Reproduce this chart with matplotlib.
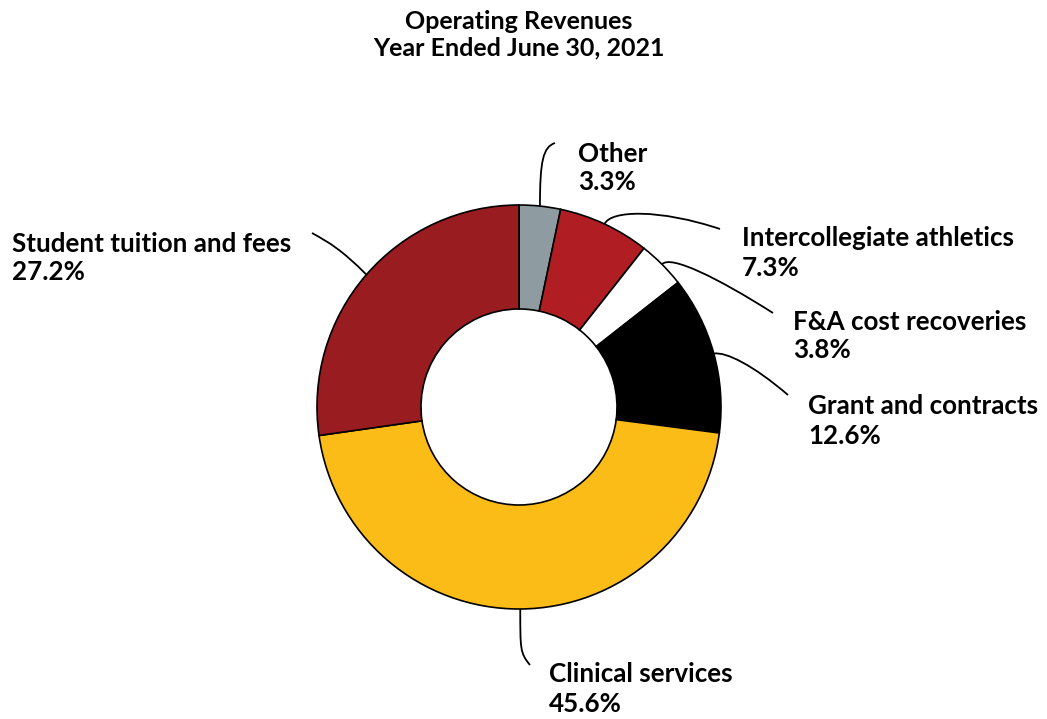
import numpy as np
import matplotlib
matplotlib.use('Agg')
import matplotlib.pyplot as plt
from matplotlib.path import Path
from matplotlib.patches import PathPatch

# dados do grafico
categories = ['Other', 'Intercollegiate athletics', 'F&A cost recoveries',
              'Grant and contracts', 'Clinical services', 'Student tuition and fees']
values = [3.3, 7.3, 3.8, 12.6, 45.6, 27.2]
colors = ['#8e9ca1', '#b01e23', '#ffffff', '#000000', '#fbbc18', '#981c20']
title = 'Operating Revenues\nYear Ended June 30, 2021'

W, H = 1047, 719
plt.rcParams['font.family'] = ['Lato', 'DejaVu Sans']

def px(x, y):
    # pixel (topo-esquerda) -> coordenadas de dados
    return (x, H - y)

fig = plt.figure(figsize=(W / 100, H / 100), dpi=100)
ax = fig.add_axes([0, 0, 1, 1])

cx, cy = px(519, 407)
R = 202
wedges, _ = ax.pie(values, colors=colors, startangle=90, counterclock=False,
                   center=(cx, cy), radius=R, frame=True,
                   wedgeprops=dict(width=104, edgecolor='black', linewidth=1.2))
ax.set_xlim(0, W)
ax.set_ylim(0, H)
ax.set_aspect('equal')
ax.axis('off')

# posicao dos textos (pixel) e fim das linhas
label_pos = [(578, 168), (742, 253), (793, 336), (808, 421), (549, 689), (12, 258)]
line_end = [(555, 143), (720, 229), (773, 313), (788, 395), (530, 665), (312, 233)]
# controles das curvas bezier
ctrl = [((0, -45), (-12, 4)), ((6, -14), (-60, -20)), ((8, -10), (-55, -35)),
        ((12, -2), (-35, -30)), ((0, 40), (-10, -12)), ((-25, -25), (18, 10))]

for w, cat, val, lp, le, (c1, c2) in zip(wedges, categories, values, label_pos, line_end, ctrl):
    ang = np.deg2rad((w.theta1 + w.theta2) / 2)
    sx, sy = cx + R * np.cos(ang), cy + R * np.sin(ang)
    ex, ey = px(*le)
    verts = [(sx, sy), (sx + c1[0], sy - c1[1]), (ex + c2[0], ey - c2[1]), (ex, ey)]
    path = Path(verts, [Path.MOVETO, Path.CURVE4, Path.CURVE4, Path.CURVE4])
    ax.add_patch(PathPatch(path, fill=False, edgecolor='black', linewidth=1.3))
    tx, ty = px(*lp)
    ax.text(tx, ty, '%s\n%.1f%%' % (cat, val), ha='left', va='center',
            fontsize=18.7, fontweight='bold', linespacing=1.25)

tx, ty = px(519, 35)
ax.text(tx, ty, title, ha='center', va='center', fontsize=18,
        fontweight='bold', linespacing=1.2)

fig.savefig('out.png', dpi=100)
